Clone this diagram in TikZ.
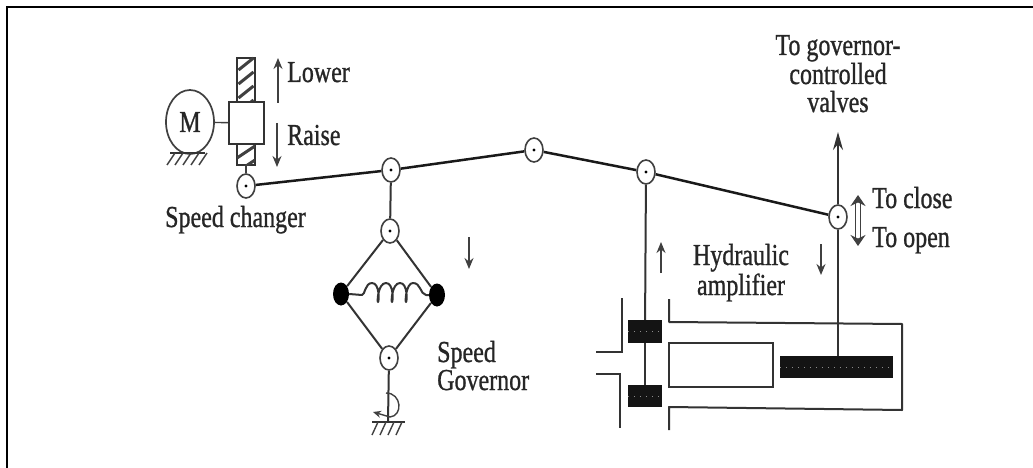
\documentclass[tikz,border=0pt]{standalone}
\usepackage{fontspec}
\setmainfont{Liberation Serif}[BoldFont=Liberation Serif,BoldFeatures={FakeBold=1}]
\usetikzlibrary{arrows.meta,shapes.geometric}
\newcommand{\tall}[1]{\scalebox{1}[1.27]{\bfseries #1}}
\tikzset{
  lnk/.style={draw=black!90,line width=2.5pt},
  rod/.style={draw=black!80,line width=2pt},
  fine/.style={draw=black!75,line width=1.4pt},
  pivot/.style={ellipse,draw=black!75,line width=1.6pt,fill=white,minimum width=18pt,minimum height=24pt,inner sep=0pt,path picture={\fill[black] (path picture bounding box.center) circle (1.7pt);}},
  ball/.style={ellipse,fill=black,minimum width=16pt,minimum height=23pt,inner sep=0pt},
  lbl/.style={font=\fontsize{24}{24}\selectfont,text=black!85,inner sep=0pt,anchor=base},
  lblw/.style={lbl,anchor=base west},
  arr/.style={draw=black!75,line width=1.5pt,-{Stealth[length=11pt,width=9pt]}},
  blk/.style={fill=black!92,draw=none,inner sep=0pt},
  speck/.style={draw=black!45,line width=1pt,dash pattern=on 1pt off 5pt},
}
\begin{document}
\begin{tikzpicture}[x=1pt,y=-1pt]
\useasboundingbox (0,0) rectangle (1033,468);
\fill[white] (0,0) rectangle (1033,468);
\draw[black,line width=2.2pt] (7,468) -- (7,7) -- (1033,7);
% pivots
\node[pivot] (sc) at (246,186) {};
\node[pivot] (p1) at (391,170) {};
\node[pivot] (p2) at (534,150) {};
\node[pivot] (p3) at (646,172) {};
\node[pivot] (p4) at (838,217) {};
\node[pivot] (gt) at (390,231) {};
\node[pivot] (gb) at (389,358) {};
\node[ball] (bl) at (341,294) {};
\node[ball] (br) at (437,295) {};
% links
\draw[lnk] (sc) -- (p1);
\draw[lnk] (p1) -- (p2);
\draw[lnk] (p2) -- (p3);
\draw[lnk] (p3) -- (p4);
\draw[rod] (p1) -- (gt);
\draw[rod] (gt) -- (bl);
\draw[rod] (gt) -- (br);
\draw[rod] (gb) -- (bl);
\draw[rod] (gb) -- (br);
% spring
\draw[rod,line join=round] (bl.east) -- (362,295) .. controls (365,295) and (365,283) .. (372,283)
  .. controls (380,283) and (379,302) .. (378,302) .. controls (377,302) and (378,283) .. (386,283)
  .. controls (394,283) and (393,302) .. (392,302) .. controls (391,302) and (392,283) .. (400,283)
  .. controls (408,283) and (407,302) .. (406,302) .. controls (405,302) and (406,283) .. (413,283)
  .. controls (421,283) and (420,294) .. (426,295) -- (br.west);
% governor base
\coordinate (gfoot) at (388,422);
\draw[rod] (gb) -- (gfoot);
\draw[rod] (372,422) -- (405,422);
\foreach \x in {378,386,394,402}{\draw[fine] (\x,422) -- (\x-6,435);}
\draw[fine,-{Stealth[length=8pt,width=7pt]}] (386,393) .. controls (402,393) and (403,416) .. (390,417) -- (373,412);
% speed changer
\draw[rod] (237,58) rectangle (255,102);
\foreach \a in {70,84,98,112}{\draw[draw=black!75,line width=3pt] (238.5,\a) -- (253.5,\a-12);}
\draw[rod] (237,144) rectangle (255,165);
\begin{scope}
\clip (237,144) rectangle (255,165);
\foreach \a in {158,172}{\draw[draw=black!75,line width=3pt] (237,\a) -- (255,\a-12);}
\end{scope}
\node[draw=black!80,line width=1.9pt,fill=white,minimum width=35pt,minimum height=42pt,inner sep=0pt] (box) at (246.5,123) {};
\node[ellipse,draw=black!75,line width=1.7pt,minimum width=48pt,minimum height=64pt,inner sep=0pt,lbl,anchor=center] (m) at (190,122) {\tall{M}};
\draw[fine] (m) -- (box);
\draw[fine] (246,165) -- (sc);
\draw[rod] (170,153) -- (205,153);
\foreach \x in {175,183,191,199,207}{\draw[fine] (\x,153) -- (\x-8,165);}
\coordinate (lA) at (278,103); \coordinate (lB) at (278,58);
\draw[arr] (lA) -- (lB);
\coordinate (rA) at (277,123); \coordinate (rB) at (277,167);
\draw[arr] (rA) -- (rB);
\node[lblw] (tl) at (287,82) {\tall{Lower}};
\node[lblw] (tr) at (287,145) {\tall{Raise}};
\node[lblw] (ts) at (165,227) {\tall{Speed changer}};
\node[lblw] (tg1) at (437,362) {\tall{Speed}};
\node[lblw] (tg2) at (437,390) {\tall{Governor}};
\coordinate (dA) at (469,237); \coordinate (dB) at (469,269);
\draw[arr] (dA) -- (dB);
% hydraulic
\node[blk,minimum width=34pt,minimum height=23pt] (pa) at (645,331.5) {};
\node[blk,minimum width=34pt,minimum height=22pt] (pb) at (645,396) {};
\draw[rod] (p3) -- (pa);
\draw[rod] (pa) -- (pb);
\draw[speck] (pa.west) -- (pa.east);
\draw[speck] (pb.west) -- (pb.east);
\draw[rod] (622,298) -- (622,352) -- (596,352);
\draw[rod] (596,374) -- (620,374) -- (620,428);
\draw[rod,line join=round] (669,299) -- (669,322) -- (902,324) -- (902,410) -- (669,407) -- (669,430);
\node[draw=black!80,line width=2pt,minimum width=104pt,minimum height=44pt,inner sep=0pt] (cyl) at (721,365) {};
\node[blk,minimum width=113pt,minimum height=22pt] (pc) at (836.5,367) {};
\draw[speck] (pc.west) -- (pc.east);
\draw[rod] (p4) -- (pc.north-|p4);
\coordinate (vt) at (838,132);
\draw[rod,-{Stealth[length=18pt,width=10pt]}] (p4) -- (vt);
\coordinate (uA) at (661,273); \coordinate (uB) at (661,242);
\draw[arr] (uA) -- (uB);
\coordinate (vA) at (821,244); \coordinate (vB) at (821,275);
\draw[arr] (vA) -- (vB);
\coordinate (tA) at (858,195); \coordinate (tB) at (858,246);
\draw[draw=black!75,line width=1.3pt,double distance=3.5pt,{Stealth[length=11pt,width=15pt]}-{Stealth[length=11pt,width=15pt]}] (tA) -- (tB);
\node[lblw] (tc) at (872,208) {\tall{To close}};
\node[lblw] (to) at (872,247) {\tall{To open}};
\node[lbl] (th1) at (741,265) {\tall{Hydraulic}};
\node[lbl] (th2) at (741,295) {\tall{amplifier}};
\node[lbl] (tv1) at (838,55) {\tall{To governor-}};
\node[lbl] (tv2) at (838,84) {\tall{controlled}};
\node[lbl] (tv3) at (838,112) {\tall{valves}};
\end{tikzpicture}
\end{document}
